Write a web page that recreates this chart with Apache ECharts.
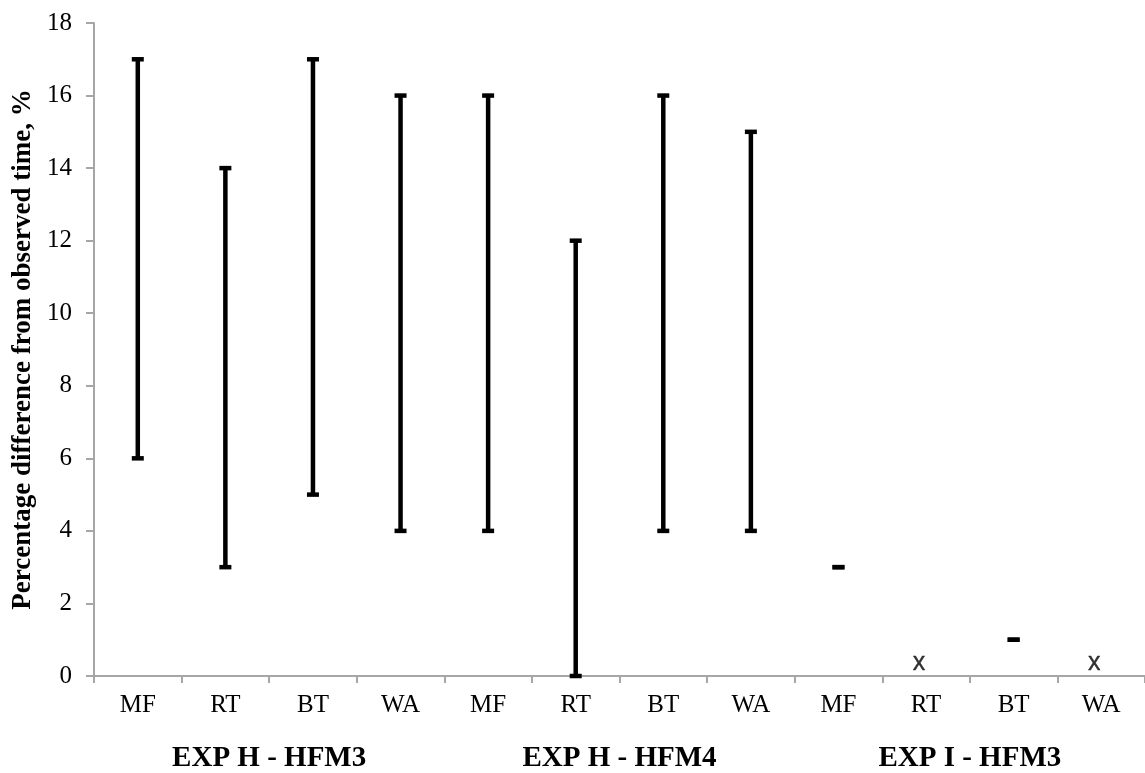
<!DOCTYPE html>
<html>
<head>
<meta charset="utf-8">
<title>Percentage difference from observed time</title>
<script src="https://cdn.jsdelivr.net/npm/echarts@6/dist/echarts.min.js"></script>
<style>
  html, body { margin: 0; padding: 0; background: #ffffff; }
  #chart { width: 1145px; height: 773px; }
</style>
</head>
<body>
<div id="chart"></div>
<script>
// Method labels along the x axis, one per range bar
const categories = ['MF', 'RT', 'BT', 'WA', 'MF', 'RT', 'BT', 'WA', 'MF', 'RT', 'BT', 'WA'];
// Experiment groups, each spanning four methods
const groups = ['EXP H - HFM3', 'EXP H - HFM4', 'EXP I - HFM3'];
// Lower and upper bound of the difference (%) for each method; null = no result
const lowValues  = [6, 3, 5, 4, 4, 0, 4, 4, 3, null, 1, null];
const highValues = [17, 14, 17, 16, 16, 12, 16, 15, 3, null, 1, null];
// Methods without a result are marked with an "x" on the baseline
const noResultMark = 'x';
const yTicks = { min: 0, max: 18, interval: 2 };

const axisGray = '#a6a6a6';
const serif = '"Liberation Serif", "Times New Roman", serif';

const rangeData = categories.map((c, i) => [i, lowValues[i], highValues[i]])
  .filter(d => d[1] !== null);
const missingData = categories.map((c, i) => [i, 0, lowValues[i] === null])
  .filter(d => d[2]).map(d => [d[0], d[1]]);

const chart = echarts.init(document.getElementById('chart'), null, { renderer: 'canvas' });

chart.setOption({
  animation: false,
  backgroundColor: '#ffffff',
  grid: { left: 94, top: 23, width: 1054, height: 655, containLabel: false },
  xAxis: [
    {
      type: 'category',
      data: categories,
      boundaryGap: true,
      axisLine: { lineStyle: { color: axisGray, width: 2 } },
      axisTick: { show: true, length: 7, lineStyle: { color: axisGray, width: 2 } },
      axisLabel: { color: '#000', fontFamily: serif, fontSize: 25, margin: 17 }
    },
    {
      type: 'category',
      data: groups,
      position: 'bottom',
      boundaryGap: true,
      axisLine: { show: false },
      axisTick: { show: false },
      axisLabel: { color: '#000', fontFamily: serif, fontSize: 29, fontWeight: 'bold', margin: 68 }
    }
  ],
  yAxis: {
    type: 'value',
    min: yTicks.min,
    max: yTicks.max,
    interval: yTicks.interval,
    name: 'Percentage difference from observed time, %',
    nameLocation: 'middle',
    nameGap: 52,
    nameTextStyle: { color: '#000', fontFamily: serif, fontSize: 27, fontWeight: 'bold' },
    axisLine: { show: true, lineStyle: { color: axisGray, width: 2 } },
    axisTick: { show: true, length: 8, lineStyle: { color: axisGray, width: 2 } },
    axisLabel: { color: '#000', fontFamily: serif, fontSize: 25, margin: 22 },
    splitLine: { show: false }
  },
  series: [
    {
      type: 'custom',
      xAxisIndex: 0,
      data: rangeData,
      encode: { x: 0, y: [1, 2] },
      renderItem: function (params, api) {
        const x = api.value(0);
        const lo = api.coord([x, api.value(1)]);
        const hi = api.coord([x, api.value(2)]);
        const capW = 12, capH = 4.5;
        const style = { fill: '#000' };
        return {
          type: 'group',
          children: [
            { type: 'line', shape: { x1: lo[0], y1: lo[1], x2: hi[0], y2: hi[1] },
              style: { stroke: '#000', lineWidth: 4.5 } },
            { type: 'rect', shape: { x: hi[0] - capW / 2, y: hi[1] - capH / 2, width: capW, height: capH }, style },
            { type: 'rect', shape: { x: lo[0] - capW / 2, y: lo[1] - capH / 2, width: capW, height: capH }, style }
          ]
        };
      }
    },
    {
      type: 'scatter',
      xAxisIndex: 0,
      data: missingData,
      symbolSize: 0,
      label: {
        show: true,
        position: 'top',
        distance: 0,
        offset: [-7, 0],
        formatter: noResultMark,
        color: '#000',
        fontFamily: '"Liberation Sans", Arial, sans-serif',
        fontSize: 25,
        textBorderColor: '#000',
        textBorderWidth: 0.4
      }
    }
  ]
});
</script>
</body>
</html>
